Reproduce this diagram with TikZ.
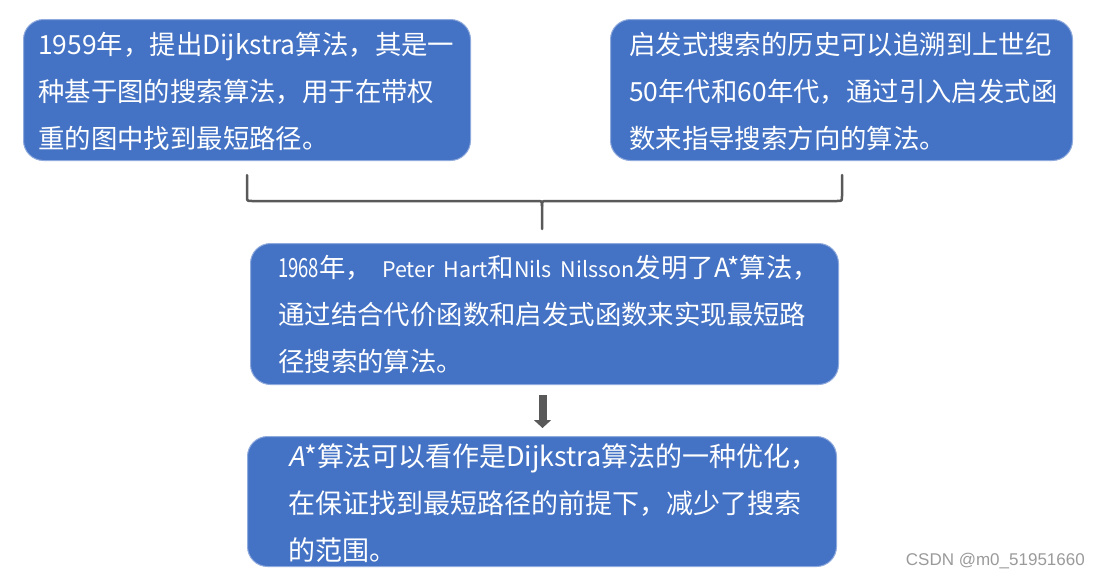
\documentclass[tikz,border=0pt]{standalone}
\usepackage{fontspec}
\usetikzlibrary{arrows.meta}
\newfontfamily\cjk{Noto Sans CJK SC}
\newfontfamily\cjkthin{Noto Sans CJK SC Light}
\newfontfamily\cjksl[FakeSlant=0.2]{Noto Sans CJK SC}
\newfontfamily\wmfont{Liberation Sans}
\newcommand\narrowdig[1]{\scalebox{0.7}[1]{#1}}
\newcommand\lat[1]{{\fontsize{21.5}{47}\selectfont #1}}
\definecolor{boxblue}{HTML}{4472C4}
\definecolor{boxedge}{HTML}{8FAADC}
\definecolor{linegray}{HTML}{595959}
\definecolor{wmgray}{HTML}{9A9A9A}
\begin{document}
\begin{tikzpicture}[x=1pt,y=-1pt,
  box/.style={draw=boxedge,line width=1pt,fill=boxblue,rounded corners=20pt,inner sep=0pt,anchor=north west},
  txtA/.style={text=white,align=left,inner sep=0pt,anchor=west,font={\cjk\fontsize{26.4}{47}\selectfont}},
  txtB/.style={text=white,align=left,inner sep=0pt,anchor=west,font={\cjk\fontsize{27}{47}\selectfont}},
  brace/.style={draw=linegray,line width=2.5pt,line cap=round,line join=round},
  arr/.style={draw=linegray,line width=8pt,-{Triangle[width=17pt,length=8pt]}}]
\useasboundingbox (0,0) rectangle (1100,579);

% boxes
\node[box,minimum width=447pt,minimum height=141pt] (b1) at (23,19) {};
\node[box,minimum width=462pt,minimum height=141pt] (b2) at (610,19) {};
\node[box,minimum width=588pt,minimum height=141pt] (b3) at (250,243) {};
\node[box,minimum width=589pt,minimum height=130pt] (b4) at (247,436) {};

% texts
\node[txtA] (t1) at ([xshift=15pt,yshift=-1pt]b1.west) {1959年，提出Dijkstra算法，其是一\\%
种基于图的搜索算法，用于在带权\\%
重的图中找到最短路径。};
\node[txtA] (t2) at ([xshift=19pt,yshift=-1pt]b2.west) {启发式搜索的历史可以追溯到上世纪\\%
50年代和60年代，通过引入启发式函\\%
数来指导搜索方向的算法。};
\node[txtA] (t3) at ([xshift=28pt]b3.west) {\narrowdig{1968}年，\hspace{10pt}\lat{Peter}\hspace{9pt}\lat{Hart}和\lat{Nils}\hspace{9pt}\lat{Nilsson}发明了A*算法，\\%
通过结合代价函数和启发式函数来实现最短路\\%
径搜索的算法。};
\node[txtB] (t4) at ([xshift=41pt,yshift=-2pt]b4.west) {{\cjksl A}*算法可以看作是Dijkstra算法的一种优化，\\%
在保证找到最短路径的前提下，减少了搜索\\%
的范围。};

% brace
\coordinate (brL) at (247,175);
\coordinate (brR) at (842,175);
\coordinate (brT) at (542,229);
\draw[brace] (brL) -- (247,196) .. controls (247,201) .. (252,201) -- (537,201)
  .. controls (542,201) .. (542,206) -- (brT);
\draw[brace] (brR) -- (842,196) .. controls (842,201) .. (837,201) -- (547,201)
  .. controls (542,201) .. (542,206);

% arrow
\draw[arr] ([xshift=-2pt,yshift=-10pt]b3.south) -- ([xshift=-2pt,yshift=8pt]b3.south |- b4.north);

% watermark
\node[text=wmgray,font={\wmfont\fontsize{17}{20}\selectfont},anchor=east,inner sep=0pt] (wm) at (1085,561) {CSDN @m0\_51951660};
\end{tikzpicture}
\end{document}
